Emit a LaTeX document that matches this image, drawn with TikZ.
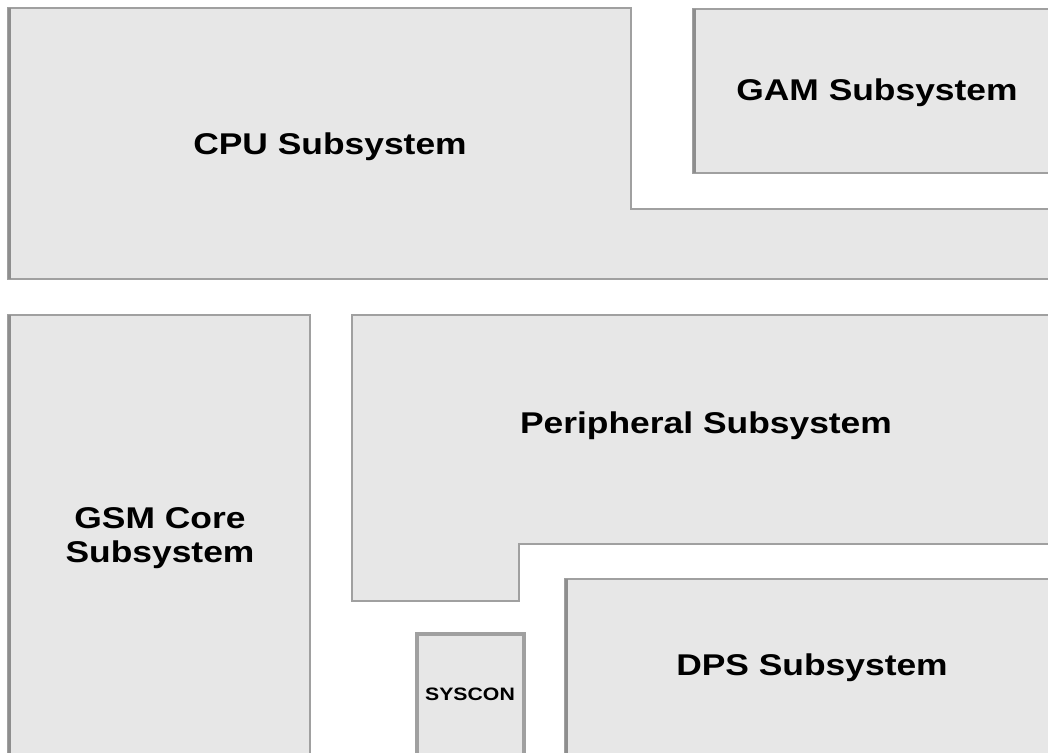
\documentclass[tikz,border=0pt]{standalone}
\usepackage{fontspec}
\setmainfont[FakeStretch=1.18]{Liberation Sans}
\definecolor{boxfill}{HTML}{E7E7E7}
\definecolor{boxline}{HTML}{A0A0A0}
\definecolor{boxshade}{HTML}{8E8E8E}
\begin{document}
\begin{tikzpicture}[x=1pt,y=-1pt,
  blk/.style={fill=boxfill,draw=boxline,line width=2.2pt},
  thickblk/.style={fill=boxfill,draw=boxline,line width=4pt},
  shadeline/.style={draw=boxshade,line width=3pt},
  lbl/.style={font=\bfseries\fontsize{30}{34}\selectfont,align=center,inner sep=0pt,text=black},
  smalllbl/.style={font=\bfseries\fontsize{18}{20}\selectfont,align=center,inner sep=0pt,text=black}]
\useasboundingbox (0,0) rectangle (1048,752);
\clip (0,0) rectangle (1048,752);
% CPU subsystem (L-shape)
\draw[blk] (8,8) -- (631,8) -- (631,209) -- (1070,209) -- (1070,279) -- (8,279) -- cycle;
\draw[shadeline] (9.5,8) -- (9.5,279);
% GAM
\draw[blk] (693,9) rectangle (1070,173);
\draw[shadeline] (694.5,9) -- (694.5,173);
% GSM core
\draw[blk] (8,315) rectangle (310,770);
\draw[shadeline] (9.5,315) -- (9.5,770);
% Peripheral
\draw[blk] (352,315) -- (1070,315) -- (1070,544) -- (519,544) -- (519,601) -- (352,601) -- cycle;
% DPS
\draw[blk] (565,579) rectangle (1070,770);
\draw[shadeline] (566.5,579) -- (566.5,770);
% SYSCON
\draw[thickblk] (417,634) rectangle (524,770);
% labels
\node[lbl] (cpu) at (330,147) {CPU Subsystem};
\node[lbl] (gam) at (877,93) {GAM Subsystem};
\node[lbl] (per) at (706,426) {Peripheral Subsystem};
\node[lbl] (gsm) at (160,538) {GSM Core\\Subsystem};
\node[lbl] (dps) at (812,668) {DPS Subsystem};
\node[smalllbl] (sys) at (470,694) {SYSCON};
\end{tikzpicture}
\end{document}
